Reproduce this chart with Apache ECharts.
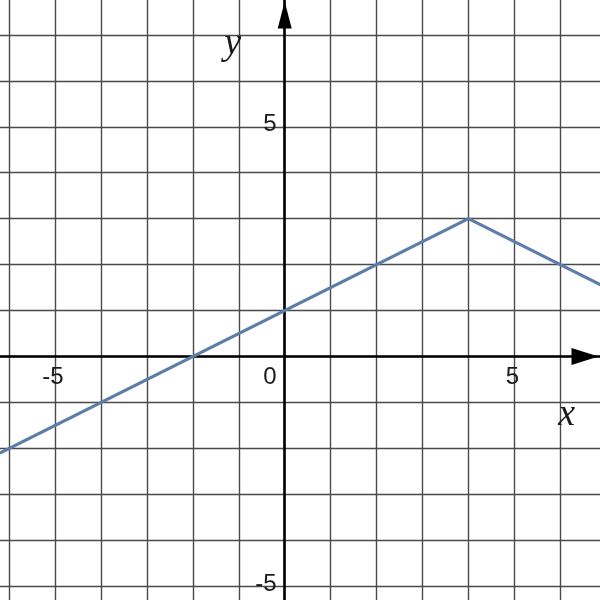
<!DOCTYPE html>
<html><head><meta charset="utf-8">
<script src="https://cdn.jsdelivr.net/npm/echarts@6/dist/echarts.min.js"></script>
<style>html,body{margin:0;padding:0;background:#fff}#c{width:600px;height:600px}</style>
</head><body><div id="c"></div>
<script>
// data
const xPoints = [-6.2, 4, 6.9];
const yPoints = [-2.1, 3, 1.55];
const xTickLabels = [-5, 5];
const yTickLabels = [-5, 5];
const originLabel = '0';
const xName = 'x';
const yName = 'y';
const xRange = [-7, 7];
const yRange = [-6, 8];

const chart = echarts.init(document.getElementById('c'), null, {renderer: 'canvas'});
const lineData = xPoints.map((x, i) => [x, yPoints[i]]);
const sans = 'Liberation Sans, Arial, sans-serif';
const serif = 'Liberation Serif, Times New Roman, serif';

chart.setOption({
  animation: false,
  backgroundColor: '#ffffff',
  grid: {left: -36.9, right: -6.3, top: -11.1, bottom: -32.2, containLabel: false, outerBoundsMode: 'none'},
  xAxis: {
    type: 'value', min: xRange[0], max: xRange[1], interval: 1,
    axisLine: {onZero: true, lineStyle: {color: '#000', width: 2.6},
      symbol: ['none', 'triangle'], symbolSize: [17, 27], symbolOffset: [0, -21.3]},
    axisTick: {show: false},
    axisLabel: {show: false},
    splitLine: {show: true, lineStyle: {color: '#4a4a4a', width: 1.4}}
  },
  yAxis: {
    type: 'value', min: yRange[0], max: yRange[1], interval: 1,
    axisLine: {onZero: true, lineStyle: {color: '#000', width: 2.6},
      symbol: ['none', 'triangle'], symbolSize: [14, 27], symbolOffset: [0, -26.1]},
    axisTick: {show: false},
    axisLabel: {show: false},
    splitLine: {show: true, lineStyle: {color: '#4a4a4a', width: 1.4}}
  },
  series: [{
    type: 'line', data: lineData, symbol: 'none', clip: false,
    lineStyle: {color: '#5b7ea8', width: 3.2}, z: 5
  }]
});

const px = p => chart.convertToPixel({gridIndex: 0}, p);
const o = px([0, 0]);
const txt = (x, y, text, extra) => ({type: 'text', x: x, y: y, z: 10,
  style: Object.assign({text: text, fontSize: 24, fill: '#1a1a1a', fontFamily: sans}, extra)});
const g = [];
xTickLabels.forEach(v => { const p = px([v, 0]); g.push(txt(p[0] - 2, p[1] + 9, String(v), {align: 'center', verticalAlign: 'top'})); });
yTickLabels.forEach(v => { const p = px([0, v]); g.push(txt(p[0] - 8, p[1] - 2, String(v), {align: 'right', verticalAlign: 'middle'})); });
g.push(txt(o[0] - 8, o[1] + 9, originLabel, {align: 'right', verticalAlign: 'top'}));
g.push(txt(o[0] + 282, o[1] + 59, xName, {fontSize: 38, fontStyle: 'italic', fontFamily: serif, align: 'center', verticalAlign: 'middle'}));
g.push(txt(o[0] - 52, o[1] - 312, yName, {fontSize: 38, fontStyle: 'italic', fontFamily: serif, align: 'center', verticalAlign: 'middle'}));
chart.setOption({graphic: g});
</script></body></html>
